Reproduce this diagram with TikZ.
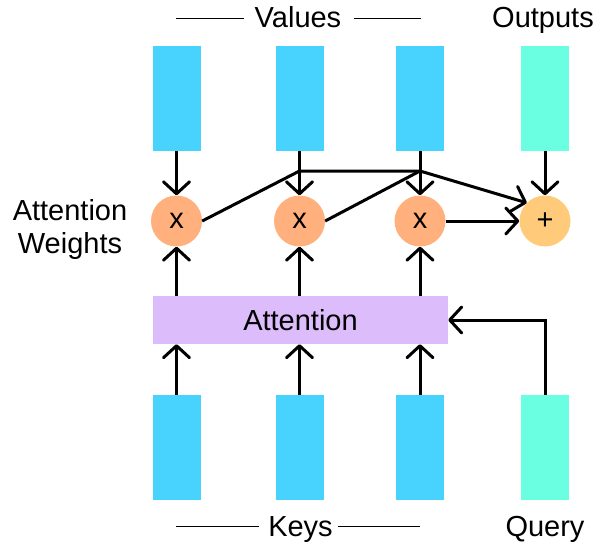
\documentclass[tikz,border=0pt]{standalone}
\usepackage{fontspec}
\setmainfont{Liberation Sans}
\usetikzlibrary{arrows.meta}
\definecolor{vblue}{HTML}{47D3FE}
\definecolor{aqua}{HTML}{6AFFE0}
\definecolor{mulc}{HTML}{FFB07C}
\definecolor{addc}{HTML}{FFCB7B}
\definecolor{attc}{HTML}{DDBCFB}
\begin{document}
\begin{tikzpicture}[x=1pt,y=-1pt,
  font=\fontsize{29}{32.6}\selectfont,
  vecbox/.style={fill=#1, draw=none, minimum width=48pt, minimum height=105pt, inner sep=0pt},
  opcirc/.style={circle, fill=#1, draw=none, minimum size=51pt, inner sep=0pt},
  conn/.style={line width=3pt, -{Straight Barb[length=12pt,width=26pt,round]}},
  plainline/.style={line width=3pt, line join=round},
  rulel/.style={line width=1.3pt},
  lbl/.style={anchor=base, inner sep=0pt}
]
\useasboundingbox (0,0) rectangle (598,543);
% value / output boxes
\node[vecbox=vblue] (v1) at (176.5,98.5) {};
\node[vecbox=vblue] (v2) at (299.5,98.5) {};
\node[vecbox=vblue] (v3) at (420,98.5) {};
\node[vecbox=aqua]  (out) at (545,98.5) {};
% key / query boxes
\node[vecbox=vblue] (k1) at (176.5,447.5) {};
\node[vecbox=vblue] (k2) at (299.5,447.5) {};
\node[vecbox=vblue] (k3) at (420,447.5) {};
\node[vecbox=aqua]  (q) at (545,447.5) {};
% operations
\node[opcirc=mulc] (m1) at (176.5,221) {x};
\node[opcirc=mulc] (m2) at (299.5,221) {x};
\node[opcirc=mulc] (m3) at (420,221) {x};
\node[opcirc=addc] (plus) at (545,221) {+};
% attention block
\node[fill=attc, minimum width=295pt, minimum height=48pt, inner sep=0pt] (att) at (300.5,320) {Attention};
% labels
\node[lbl] (vall) at (298,28) {Values};
\node[lbl] (outl) at (543,28) {Outputs};
\node[lbl] (keyl) at (300.5,536.7) {Keys};
\node[lbl] (qryl) at (545,536.7) {Query};
\node[lbl, align=center] (awl) at (70,253.3) {Attention\\Weights};
% label rules
\coordinate (va) at (176,18.5); \coordinate (vb) at (244,18.5);
\coordinate (vc) at (354,18.5); \coordinate (vd) at (421,18.5);
\coordinate (ka) at (176,526.7); \coordinate (kb) at (259,526.7);
\coordinate (kc) at (338,526.7); \coordinate (kd) at (420,526.7);
\draw[rulel] (va) -- (vb);
\draw[rulel] (vc) -- (vd);
\draw[rulel] (ka) -- (kb);
\draw[rulel] (kc) -- (kd);
% connectors
\draw[conn] (v1.south) -- (m1.north);
\draw[conn] (v2.south) -- (m2.north);
\draw[conn] (v3.south) -- (m3.north);
\draw[conn] (out.south) -- (plus.north);
\draw[conn] (att.north -| m1) -- (m1.south);
\draw[conn] (att.north -| m2) -- (m2.south);
\draw[conn] (att.north -| m3) -- (m3.south);
\draw[conn] (k1.north) -- (k1.north |- att.south);
\draw[conn] (k2.north) -- (k2.north |- att.south);
\draw[conn] (k3.north) -- (k3.north |- att.south);
\draw[conn] (q.north) |- (att.east);
\coordinate (j1) at (299.5,171);
\coordinate (j2) at (420,171);
\draw[plainline] (m1.east) -- (j1) -- (j2);
\draw[plainline] (m2.east) -- (j2);
\draw[conn] (j2) -- (plus.135);
\draw[conn] (m3.east) -- (plus.west);
\end{tikzpicture}
\end{document}
